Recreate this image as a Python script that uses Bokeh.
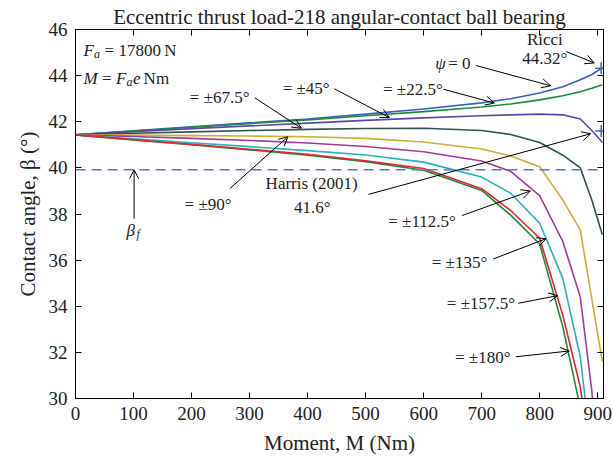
from bokeh.plotting import figure
from bokeh.models import Range1d, LinearAxis, FixedTicker, Label, Arrow, OpenHead, Span
from bokeh.embed import file_html
from bokeh.resources import INLINE

# ---------------- data ----------------
moment = [0, 100, 200, 300, 400, 500, 600, 700, 750, 800, 840, 870, 890, 908]
beta_psi_0 = [41.43, 41.61, 41.78, 41.95, 42.12, 42.33, 42.55, 42.82, 43.00, 43.25, 43.52, 43.82, 44.05, 44.35]
beta_psi_22_5 = [41.43, 41.60, 41.76, 41.92, 42.08, 42.26, 42.44, 42.64, 42.77, 42.95, 43.13, 43.30, 43.45, 43.60]
beta_psi_45 = [41.43, 41.57, 41.70, 41.82, 41.94, 42.06, 42.17, 42.26, 42.30, 42.33, 42.30, 42.12, 41.62, 41.10]
beta_psi_67_5 = [41.43, 41.50, 41.56, 41.62, 41.67, 41.71, 41.72, 41.62, 41.45, 41.10, 40.55, 40.00, 38.60, 37.10]
beta_psi_90 = [41.43, 41.42, 41.40, 41.38, 41.35, 41.28, 41.12, 40.82, 40.52, 40.05, 38.60, 37.30, 34.30, 31.60]
beta_psi_112_5 = [41.43, 41.36, 41.28, 41.19, 41.08, 40.93, 40.70, 40.30, 39.85, 38.80, 36.80, 34.40, 30.30, 25.00]
beta_psi_135 = [41.43, 41.26, 41.09, 40.92, 40.75, 40.56, 40.25, 39.60, 38.90, 37.60, 35.20, 31.80, 27.50, 24.00]
beta_psi_157_5 = [41.43, 41.22, 41.02, 40.81, 40.59, 40.31, 39.97, 39.10, 38.15, 36.95, 33.60, 30.50, 27.00, 23.00]
beta_psi_180 = [41.43, 41.21, 41.00, 40.78, 40.55, 40.27, 39.90, 39.02, 37.95, 36.70, 33.10, 29.60, 26.00, 22.00]

series = [beta_psi_0, beta_psi_22_5, beta_psi_45, beta_psi_67_5, beta_psi_90,
          beta_psi_112_5, beta_psi_135, beta_psi_180, beta_psi_157_5]
colors = ["#3d5cc4", "#1c8c3c", "#5a48a6", "#2e5552", "#c9b034",
          "#a43a9c", "#25b3bd", "#1f8a45", "#e3262d"]

beta_f = 39.92
ricci_M, ricci_beta = 906, 44.32
harris_M, harris_beta = 906, 41.6

x_ticks = [0, 100, 200, 300, 400, 500, 600, 700, 800, 900]
y_ticks = [30, 32, 34, 36, 38, 40, 42, 44, 46]

FONT = "Liberation Serif"
TXT = "#222222"

# ---------------- figure ----------------
p = figure(width=613, height=461, x_range=Range1d(0, 910), y_range=Range1d(30, 46),
           output_backend="svg", toolbar_location=None,
           min_border_left=75, min_border_right=10, min_border_top=29, min_border_bottom=63)
p.grid.visible = False
p.outline_line_color = "black"
p.outline_line_width = 1
p.background_fill_color = "white"
p.border_fill_color = "white"

p.title.text = "Eccentric thrust load-218 angular-contact ball bearing"
p.title.text_font = FONT
p.title.text_font_size = "21px"
p.title.text_font_style = "normal"
p.title.text_color = TXT
p.title.align = "center"
p.title.standoff = 2


def style_axis(ax):
    ax.major_tick_in = 6
    ax.major_tick_out = 0
    ax.minor_tick_line_color = None
    ax.axis_line_color = "black"
    ax.major_tick_line_color = "black"
    ax.major_label_text_font = FONT
    ax.major_label_text_font_size = "19px"
    ax.major_label_text_color = TXT
    ax.axis_label_text_font = FONT
    ax.axis_label_text_font_size = "21px"
    ax.axis_label_text_font_style = "normal"
    ax.axis_label_text_color = TXT


p.xaxis.ticker = FixedTicker(ticks=x_ticks)
p.yaxis.ticker = FixedTicker(ticks=y_ticks)
style_axis(p.xaxis[0])
style_axis(p.yaxis[0])
p.xaxis.major_label_standoff = 8
p.yaxis.major_label_standoff = 8
p.xaxis.axis_label = "Moment, M (Nm)"
p.yaxis.axis_label = "Contact angle, \u03b2 (\u00b0)"
p.xaxis.axis_label_standoff = 8
p.yaxis.axis_label_standoff = 6

top = LinearAxis(ticker=FixedTicker(ticks=x_ticks),
                 major_label_overrides={t: "" for t in x_ticks})
style_axis(top)
p.add_layout(top, "above")
right = LinearAxis(ticker=FixedTicker(ticks=y_ticks),
                   major_label_overrides={t: "" for t in y_ticks})
style_axis(right)
p.add_layout(right, "right")

# ---------------- curves ----------------
for beta, c in zip(series, colors):
    p.line(moment, beta, line_color=c, line_width=1.6)

p.add_layout(Span(location=beta_f, dimension="width", line_color="#5a78c8",
                  line_dash="10 6", line_width=1.5))

p.scatter([ricci_M, harris_M], [ricci_beta, harris_beta], marker="cross",
          size=12, line_color="#3d5cc4", line_width=1.5)


# ---------------- annotations ----------------
def lab(x, y, text, dx=0, size="17px", style="normal", align="left"):
    p.add_layout(Label(x=x, y=y, text=text, x_offset=dx, text_font=FONT,
                       text_font_size=size, text_font_style=style,
                       text_align=align, text_baseline="middle",
                       text_color=TXT))


def arrow(x0, y0, x1, y1):
    p.add_layout(Arrow(end=OpenHead(size=9, line_color="black", line_width=1),
                       x_start=x0, y_start=y0, x_end=x1, y_end=y1,
                       line_color="black", line_width=1))


SUB = 0.15  # subscript drop, data units

# F_a = 17800 N
lab(14, 45.1, "F", style="italic")
lab(14, 45.1 - SUB, "a", dx=10.4, size="12px", style="italic")
lab(14, 45.1, "= 17800\u2009N", dx=21)
# M = F_a e Nm
lab(14, 43.86, "M", style="italic")
lab(14, 43.86, "=", dx=18.5)
lab(14, 43.86, "F", dx=32.5, style="italic")
lab(14, 43.86 - SUB, "a", dx=42.9, size="12px", style="italic")
lab(14, 43.86, "e", dx=49.5, style="italic")
lab(14, 43.86, "Nm", dx=60)

# psi labels with arrows
lab(197, 43.07, "= \u00b167.5\u00b0")
arrow(309, 43.04, 389, 41.72)
lab(357, 43.43, "= \u00b145\u00b0")
arrow(446, 43.43, 541, 42.18)
lab(620, 44.52, "\u03c8", style="italic")
lab(620, 44.52, "= 0", dx=13)
arrow(690, 44.44, 819, 43.56)
lab(530, 43.41, "= \u00b122.5\u00b0")
arrow(634, 43.41, 722, 42.81)

lab(809, 45.56, "Ricci", align="center")
lab(809, 44.74, "44.32\u00b0", align="center")
arrow(846, 45.04, 894, 44.55)

lab(407, 39.31, "Harris (2001)", align="center")
lab(408, 38.30, "41.6\u00b0", align="center")
arrow(505, 38.85, 888, 41.48)

lab(188, 38.43, "= \u00b190\u00b0")
arrow(266, 39.10, 366, 41.35)

lab(100, 37.29, "\u03b2", dx=-7, style="italic")
lab(100, 37.29 - SUB, "f", dx=3, size="12px", style="italic")
arrow(101, 37.80, 101, 39.92)

lab(539, 37.69, "= \u00b1112.5\u00b0")
arrow(666, 37.93, 784, 39.0)
lab(614, 35.90, "= \u00b1135\u00b0")
arrow(720, 36.05, 811, 36.93)
lab(640, 34.10, "= \u00b1157.5\u00b0")
arrow(763, 34.13, 831, 34.46)
lab(654, 31.78, "= \u00b1180\u00b0")
arrow(759, 31.81, 851, 32.06)

open("out.html", "w").write(file_html(p, INLINE))
